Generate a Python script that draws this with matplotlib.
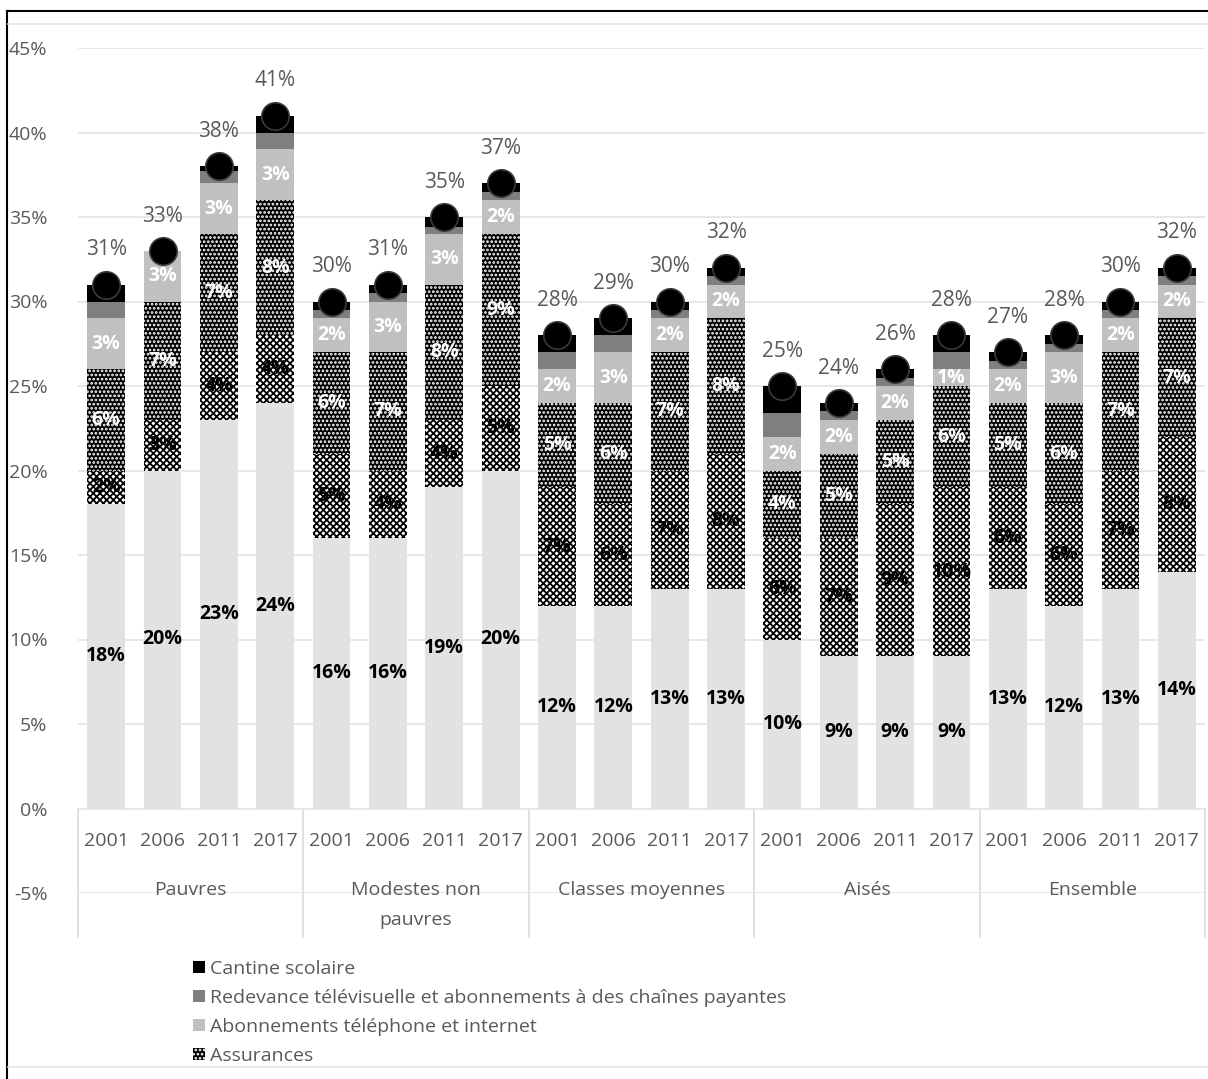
import numpy as np
import matplotlib
matplotlib.use("Agg")
import matplotlib.pyplot as plt
from matplotlib.lines import Line2D

plt.rcParams['font.family'] = ['Open Sans', 'DejaVu Sans']
plt.rcParams['hatch.linewidth'] = 1.3

# ---------------- data ----------------
years = ["2001", "2006", "2011", "2017"] * 5
groups = ["Pauvres", "Modestes non\npauvres", "Classes moyennes", "Aisés", "Ensemble"]

base = [18, 20, 23, 24, 16, 16, 19, 20, 12, 12, 13, 13, 10, 9, 9, 9, 13, 12, 13, 14]
cross = [2, 3, 4, 4, 5, 4, 4, 5, 7, 6, 7, 8, 6, 7, 9, 10, 6, 6, 7, 8]
assurances = [6, 7, 7, 8, 6, 7, 8, 9, 5, 6, 7, 8, 4, 5, 5, 6, 5, 6, 7, 7]
telephone = [3, 3, 3, 3, 2, 3, 3, 2, 2, 3, 2, 2, 2, 2, 2, 1, 2, 3, 2, 2]
redevance = [1, 0, 0.7, 1, 0.5, 0.5, 0.4, 0.5, 1, 1, 0.5, 0.5, 1.4, 0.5, 0.5, 1, 0.5, 0.5, 0.5, 0.5]
cantine = [1, 0, 0.3, 1, 0.5, 0.5, 0.6, 0.5, 1, 1, 0.5, 0.5, 1.6, 0.5, 0.5, 1, 0.5, 0.5, 0.5, 0.5]

legend_labels = ["Cantine scolaire",
                 "Redevance télévisuelle et abonnements à des chaînes payantes",
                 "Abonnements téléphone et internet",
                 "Assurances"]

# ---------------- figure ----------------
W, H = 1208, 1079
fig = plt.figure(figsize=(W / 100, H / 100), dpi=100)
ax = fig.add_axes([78 / W, 1 - 893 / H, (1205 - 78) / W, (893 - 48) / H])

x = np.arange(len(years))
bw = 0.67
grey_txt = "#595959"

series = [
    (base, dict(color="#e1e2e1"), "black"),
    (cross, dict(color="white", edgecolor="black", hatch="xxxxx"), "black"),
    (assurances, dict(color="black", edgecolor="white", hatch="...."), "white"),
    (telephone, dict(color="#c0c0c0"), "white"),
    (redevance, dict(color="#7f7f7f"), None),
    (cantine, dict(color="black"), None),
]

bottom = np.zeros(len(x))
containers = []
for vals, style, lab_col in series:
    v = np.array(vals, dtype=float)
    kw = dict(style)
    fc = kw.pop("color")
    ec = kw.pop("edgecolor", fc)
    hatch = kw.pop("hatch", None)
    c = ax.bar(x, v, bw, bottom=bottom, facecolor=fc, edgecolor=ec,
               hatch=hatch, linewidth=0, zorder=3)
    containers.append(c)
    if lab_col is not None:
        for xi, vi, bi in zip(x, v, bottom):
            if vi >= 0.9:
                ax.text(xi, bi + vi / 2, f"{round(vi)}%", ha="center", va="center",
                        fontsize=14, color=lab_col, fontweight="bold", zorder=5)
    bottom = bottom + v

totals = bottom
ax.scatter(x, totals, s=390, color="black", edgecolor="#3a3a3a", linewidth=1.2, zorder=6)
for xi, ti in zip(x, totals):
    ax.annotate(f"{round(ti)}%", (xi, ti), xytext=(0, 25), textcoords="offset points",
                ha="center", va="center", fontsize=15, color=grey_txt, zorder=6)

ax.set_xlim(-0.5, len(x) - 0.5)
ax.set_ylim(-5, 45)
ax.set_yticks(np.arange(-5, 46, 5))
ax.set_yticklabels([f"{v}%" for v in range(-5, 46, 5)])
ax.tick_params(axis="y", length=0, pad=22, labelsize=14, labelcolor=grey_txt)
ax.tick_params(axis="x", length=0, labelbottom=False)
ax.set_xticks([])
ax.grid(axis="y", color="#e3e3e3", linewidth=1.2, zorder=0)
for s in ax.spines.values():
    s.set_visible(False)

# category axis
for xi, yr in zip(x, years):
    ax.text(xi, -1.9, yr, ha="center", va="center", fontsize=14, color=grey_txt, zorder=4)
for gi, g in enumerate(groups):
    for li, line in enumerate(g.split("\n")):
        ax.text(gi * 4 + 1.5, -4.85 - li * 1.77, line, ha="center", va="center",
                fontsize=14, color=grey_txt, zorder=4)
for sx in np.arange(-0.5, len(x), 4):
    ax.plot([sx, sx], [0, -7.6], color="#dcdcdc", linewidth=1.2, clip_on=False, zorder=1)

# legend
handles = [containers[5][0], containers[4][0], containers[3][0], containers[2][0]]
leg = fig.legend(handles, legend_labels, loc="upper left",
                 bbox_to_anchor=(193 / W, 1 - 960 / H), frameon=False,
                 fontsize=14, handlelength=0.6, handleheight=0.6,
                 handletextpad=0.3, labelspacing=0.56, borderpad=0, borderaxespad=0)
for t in leg.get_texts():
    t.set_color(grey_txt)

# frame lines
fig.add_artist(Line2D([7 / W, 1], [1 - 11 / H, 1 - 11 / H], color="black", linewidth=1.5))
fig.add_artist(Line2D([7 / W, 7 / W], [0, 1 - 11 / H], color="black", linewidth=1.5))
fig.add_artist(Line2D([8 / W, 1], [1 - 24 / H, 1 - 24 / H], color="#e6e6e6", linewidth=1.2))
fig.add_artist(Line2D([8 / W, 1], [1 - 1067 / H, 1 - 1067 / H], color="#e6e6e6", linewidth=1.2))

fig.savefig("out.png", dpi=100)
